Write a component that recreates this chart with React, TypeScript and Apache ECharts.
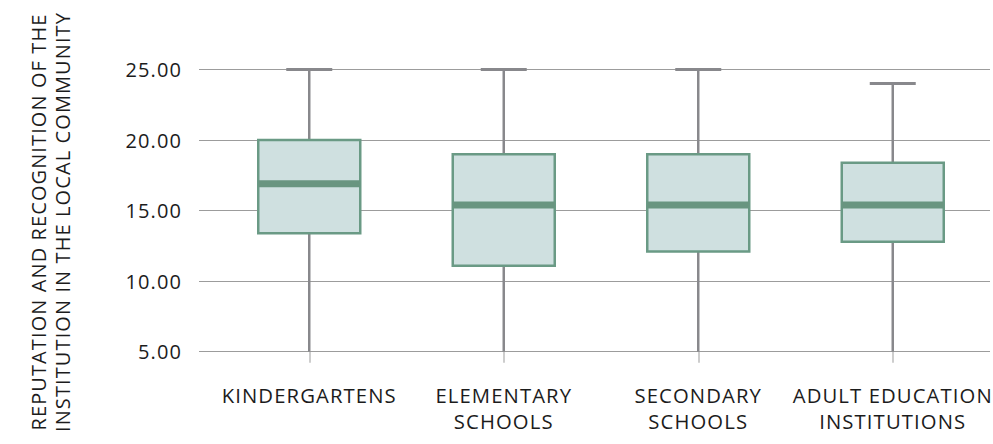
import React, { useEffect, useRef } from "react";
import * as echarts from "echarts";

const categories = [
  "KINDERGARTENS",
  "ELEMENTARY\nSCHOOLS",
  "SECONDARY\nSCHOOLS",
  "ADULT EDUCATION\nINSTITUTIONS",
];
const minValues = [5, 5, 5, 5];
const q1Values = [13.4, 11.1, 12.1, 12.8];
const medianValues = [16.9, 15.4, 15.4, 15.4];
const q3Values = [20.0, 19.0, 19.0, 18.4];
const maxValues = [25, 25, 25, 24];
const yTicks = [5, 10, 15, 20, 25];
const yTitle = "REPUTATION AND RECOGNITION OF THE\nINSTITUTION IN THE LOCAL COMMUNITY";

const FONT = "'Open Sans', 'Noto Sans', sans-serif";
const TEXT_COLOR = "#1c1c1c";

export default function App() {
  const ref = useRef<HTMLDivElement>(null);

  useEffect(() => {
    if (!ref.current) return;
    const chart = echarts.init(ref.current, null, { renderer: "svg" });
    const yMin = yTicks[0];
    const yMax = yTicks[yTicks.length - 1];
    const step = yTicks[1] - yTicks[0];
    const data = categories.map((_, i) => [
      i,
      minValues[i],
      q1Values[i],
      medianValues[i],
      q3Values[i],
      maxValues[i],
    ]);
    const boxW = 102;
    const capW = 46;
    const whiskerColor = "#88888c";
    const option: any = {
      animation: false,
      grid: [
        { left: 212, right: 3, top: 69.5, bottom: 92.3 },
        { left: 199, right: 3, top: 69.5, bottom: 92.3 },
      ],
      graphic: [
        {
          type: "text",
          x: 50.5,
          y: 222,
          rotation: Math.PI / 2,
          style: {
            text: yTitle,
            fontSize: 20,
            fontFamily: FONT,
            fill: TEXT_COLOR,
            align: "center",
            verticalAlign: "middle",
            lineHeight: 23.5,
          },
        },
      ],
      xAxis: [
        {
          type: "category",
          gridIndex: 0,
          data: categories,
          axisLine: { show: false },
          axisTick: {
            show: true,
            alignWithLabel: true,
            length: 11,
            lineStyle: { color: "#bdbdbd", width: 1.5 },
          },
          axisLabel: {
            interval: 0,
            margin: 30,
            fontSize: 20.3,
            lineHeight: 26,
            color: TEXT_COLOR,
            fontFamily: FONT,
          },
          splitLine: { show: false },
        },
        {
          type: "category",
          gridIndex: 1,
          data: categories,
          show: false,
        },
      ],
      yAxis: [
        {
          type: "value",
          gridIndex: 0,
          min: yMin,
          max: yMax,
          interval: step,
          show: false,
          splitLine: { show: false },
        },
        {
          type: "value",
          gridIndex: 1,
          min: yMin,
          max: yMax,
          interval: step,
          axisLine: { show: false },
          axisTick: { show: false },
          axisLabel: {
            margin: 17,
            fontSize: 20,
            color: TEXT_COLOR,
            fontFamily: FONT,
            formatter: (v: number) => v.toFixed(2),
          },
          splitLine: { show: true, lineStyle: { color: "#9c9c9c", width: 1.2 } },
        },
      ],
      series: [
        {
          type: "custom",
          xAxisIndex: 0,
          yAxisIndex: 0,
          data,
          encode: { x: 0, y: [1, 2, 3, 4, 5] },
          renderItem: (params: any, api: any) => {
            const x = api.value(0);
            const pMin = api.coord([x, api.value(1)]);
            const pQ1 = api.coord([x, api.value(2)]);
            const pMed = api.coord([x, api.value(3)]);
            const pQ3 = api.coord([x, api.value(4)]);
            const pMax = api.coord([x, api.value(5)]);
            const cx = pMin[0];
            return {
              type: "group",
              children: [
                {
                  type: "line",
                  shape: { x1: cx, y1: pQ1[1], x2: cx, y2: pMin[1] },
                  style: { stroke: whiskerColor, lineWidth: 2.5 },
                },
                {
                  type: "line",
                  shape: { x1: cx, y1: pQ3[1], x2: cx, y2: pMax[1] },
                  style: { stroke: whiskerColor, lineWidth: 2.5 },
                },
                {
                  type: "line",
                  shape: { x1: cx - capW / 2, y1: pMax[1], x2: cx + capW / 2, y2: pMax[1] },
                  style: { stroke: whiskerColor, lineWidth: 3 },
                },
                {
                  type: "rect",
                  shape: { x: cx - boxW / 2, y: pQ3[1], width: boxW, height: pQ1[1] - pQ3[1] },
                  style: { fill: "#cfe0e0", stroke: "#6a9a85", lineWidth: 2.5 },
                },
                {
                  type: "line",
                  shape: { x1: cx - boxW / 2, y1: pMed[1], x2: cx + boxW / 2, y2: pMed[1] },
                  style: { stroke: "#699580", lineWidth: 7 },
                },
              ],
            };
          },
        },
      ],
    };
    chart.setOption(option);
    return () => chart.dispose();
  }, []);

  return (
    <>
      <style>{`.chartbox text { letter-spacing: 1.1px; }`}</style>
      <div
        ref={ref}
        className="chartbox"
        style={{ position: "absolute", left: 0, top: 0, width: 993, height: 444 }}
      />
    </>
  );
}
